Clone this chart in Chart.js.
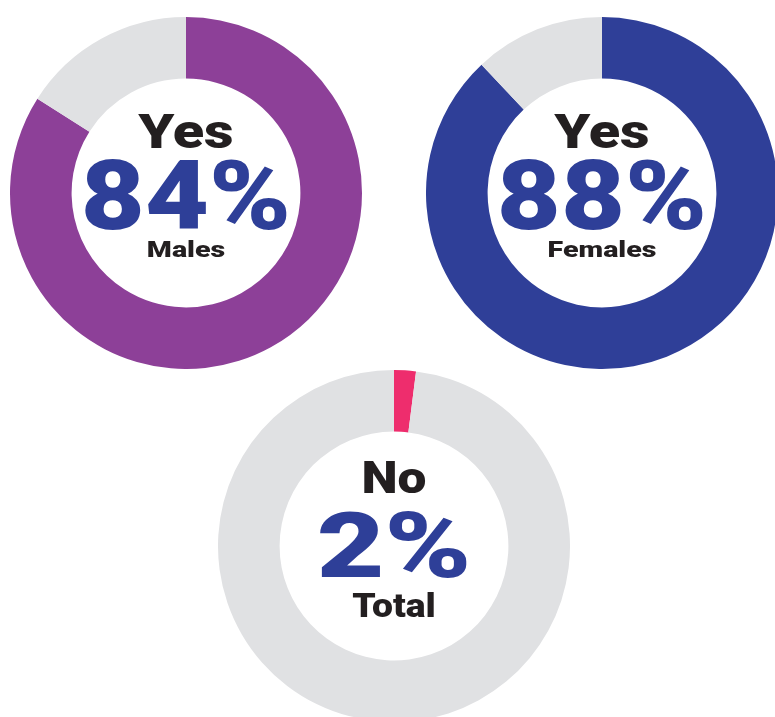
<!DOCTYPE html>
<html>
<head>
<meta charset="utf-8">
<script src="https://cdn.jsdelivr.net/npm/chart.js@4.4.1/dist/chart.umd.min.js"></script>
<style>
  html, body { margin: 0; padding: 0; background: #fff; overflow: hidden; }
  body { width: 775px; height: 717px; position: relative; }
  .ring { position: absolute; width: 352px; height: 352px; }
</style>
</head>
<body>
<div class="ring" style="left:10px;top:17px"><canvas id="males" width="352" height="352"></canvas></div>
<div class="ring" style="left:426px;top:17px"><canvas id="females" width="352" height="352"></canvas></div>
<div class="ring" style="left:218px;top:370px"><canvas id="total" width="352" height="352"></canvas></div>
<script>
// Data
const groups = ['Males', 'Females', 'Total'];
const answers = ['Yes', 'Yes', 'No'];
const shownValues = [84, 88, 2];
const restValues = [16, 12, 98];

const ringColors = ['#8D4098', '#2F3F98', '#EE2D6D'];
const restColor = '#E0E1E3';
const ids = ['males', 'females', 'total'];

// Centre text: answer, big percentage, group name
const centerText = {
    id: 'centerText',
    afterDraw(chart, args, opts) {
        const ctx = chart.ctx;
        const cx = (chart.chartArea.left + chart.chartArea.right) / 2;
        const cy = (chart.chartArea.top + chart.chartArea.bottom) / 2;
        ctx.save();
        ctx.textAlign = 'center';
        ctx.textBaseline = 'alphabetic';
        opts.lines.forEach(line => {
            ctx.font = '900 ' + line.size + 'px Roboto, "Liberation Sans", sans-serif';
            ctx.fillStyle = line.color;
            ctx.save();
            ctx.translate(cx, cy + line.dy);
            ctx.scale(line.stretch, 1);
            ctx.fillText(line.text, 0, 0);
            ctx.restore();
        });
        ctx.restore();
    }
};

function makeRing(i) {
    const small = i === 2;
    // the source font is wider than Roboto, so stretch each line a bit
    const lines = small ? [
        { text: answers[i], size: 44, dy: -53, color: '#231F20', stretch: 1.17 },
        { text: shownValues[i] + '%', size: 90, dy: 31, color: '#2E3F98', stretch: 1.3 },
        { text: groups[i], size: 33, dy: 71, color: '#231F20', stretch: 1.13 }
    ] : [
        { text: answers[i], size: 48, dy: -45, color: '#231F20', stretch: 1.2 },
        { text: shownValues[i] + '%', size: 97, dy: 36, color: '#2E3F98', stretch: 1.14 },
        { text: groups[i], size: 22, dy: 64, color: '#231F20', stretch: 1.3 }
    ];

    new Chart(document.getElementById(ids[i]), {
        type: 'doughnut',
        data: {
            labels: [answers[i], 'Other'],
            datasets: [{
                data: [shownValues[i], restValues[i]],
                backgroundColor: [ringColors[i], restColor],
                borderWidth: 0
            }]
        },
        options: {
            responsive: false,
            animation: false,
            cutout: '65%',
            layout: { padding: 0 },
            plugins: {
                legend: { display: false },
                tooltip: { enabled: false },
                centerText: { lines: lines }
            }
        },
        plugins: [centerText]
    });
}

[0, 1, 2].forEach(makeRing);
</script>
</body>
</html>
